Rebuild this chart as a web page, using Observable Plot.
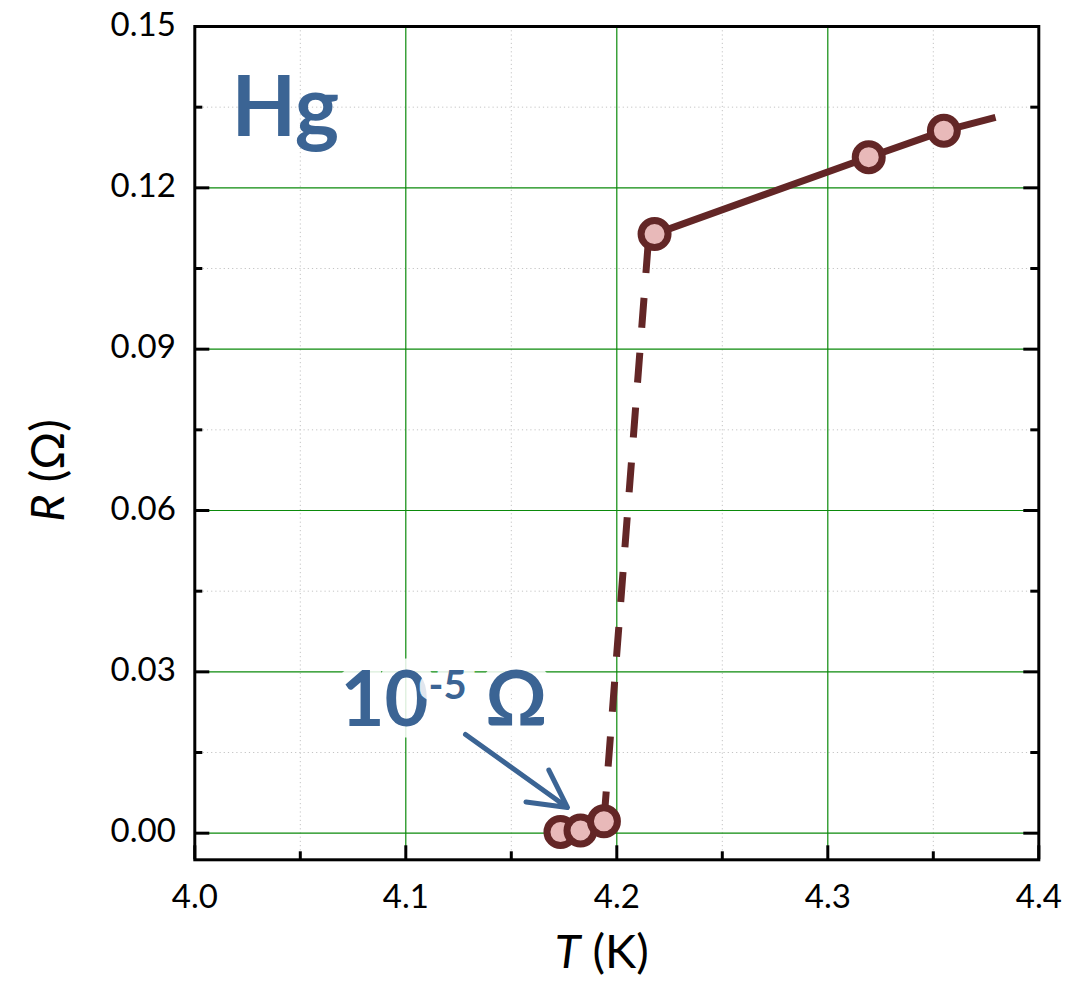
<!DOCTYPE html>
<html>
<head>
<meta charset="utf-8">
<script src="https://cdn.jsdelivr.net/npm/d3@7"></script>
<script src="https://cdn.jsdelivr.net/npm/@observablehq/plot@0.6"></script>
<style>
  html, body { margin: 0; padding: 0; background: #fff; }
  #chart svg { display: block; }
</style>
</head>
<body>
<div id="chart"></div>
<script>
// ---- data ----
const temperatureK  = [4.1733, 4.1828, 4.1939, 4.2179, 4.3194, 4.3550];
const resistanceOhm = [0.0002, 0.0005, 0.0022, 0.1114, 0.1257, 0.1306];
// solid guide through the normal-state points
const normalLineT = [4.2179, 4.3194, 4.3550, 4.3795];
const normalLineR = [0.1114, 0.1257, 0.1306, 0.1331];
// dashed guide across the transition
const transitionT = [4.1939, 4.2150];
const transitionR = [0.0022, 0.1103];
// ticks
const xMajorTicks = [4.0, 4.1, 4.2, 4.3, 4.4];
const xMinorTicks = [4.05, 4.15, 4.25, 4.35];
const yMajorTicks = [0.00, 0.03, 0.06, 0.09, 0.12, 0.15];
const yMinorTicks = [0.015, 0.045, 0.075, 0.105, 0.135];
// annotations (data coordinates)
const elementText = ["Hg"];
const elementT = [4.0174];
const elementR = [0.12955];
const residualText = ["10-5 Ω"];
const residualT = [4.0690];
const residualR = [0.01984];
const arrowFromT = [4.1283], arrowFromR = [0.01835];
const arrowToT = [4.1766], arrowToR = [0.00478];
const xTitle = ["T (K)"];
const yTitle = ["R (Ω)"];

// ---- layout ----
const W = 1081, H = 981;
const mTop = 26, mRight = 42.7, mBottom = 121.7, mLeft = 194.3;
const plotW = W - mLeft - mRight;
const plotH = H - mTop - mBottom;
const ink = "#632626", pink = "#e8b9b9", blue = "#3b6494", green = "#0b8a0b", minorGrid = "#c4c4c4";
const font = "Lato, 'Open Sans', 'DejaVu Sans', sans-serif";

const points = temperatureK.map((t, i) => ({T: t, R: resistanceOhm[i]}));
const normal = normalLineT.map((t, i) => ({T: t, R: normalLineR[i]}));
const transition = transitionT.map((t, i) => ({T: t, R: transitionR[i]}));
const elementLabels = elementText.map((s, i) => ({s, T: elementT[i], R: elementR[i]}));
const residualLabels = residualText.map((s, i) => ({s, T: residualT[i], R: residualR[i]}));
const arrows = arrowFromT.map((t, i) => ({x1: t, y1: arrowFromR[i], x2: arrowToT[i], y2: arrowToR[i]}));

const chart = Plot.plot({
  width: W,
  height: H,
  marginTop: mTop,
  marginRight: mRight,
  marginBottom: mBottom,
  marginLeft: mLeft,
  style: {fontFamily: font, background: "#fff", color: "#000"},
  x: {domain: [4.0, 4.4], label: null},
  y: {domain: [-0.00495, 0.15], label: null},
  marks: [
    // minor dotted grid
    Plot.ruleX(xMinorTicks, {x: d => d, stroke: minorGrid, strokeWidth: 1, strokeDasharray: "1.2,3"}),
    Plot.ruleY(yMinorTicks, {y: d => d, stroke: minorGrid, strokeWidth: 1, strokeDasharray: "1.2,3"}),
    // major green grid
    Plot.ruleX(xMajorTicks.slice(1, -1), {x: d => d, stroke: green, strokeWidth: 1.2}),
    Plot.ruleY(yMajorTicks.slice(0, -1), {y: d => d, stroke: green, strokeWidth: 1.2}),
    // inward ticks
    Plot.tickY(yMajorTicks, {y: d => d, insetRight: plotW - 15, stroke: "#000", strokeWidth: 3}),
    Plot.tickY(yMinorTicks, {y: d => d, insetRight: plotW - 8, stroke: "#000", strokeWidth: 3}),
    Plot.tickY(yMajorTicks, {y: d => d, insetLeft: plotW - 15, stroke: "#000", strokeWidth: 3}),
    Plot.tickY(yMinorTicks, {y: d => d, insetLeft: plotW - 8, stroke: "#000", strokeWidth: 3}),
    Plot.tickX(xMajorTicks, {x: d => d, insetTop: plotH - 14, stroke: "#000", strokeWidth: 3}),
    Plot.tickX(xMinorTicks, {x: d => d, insetTop: plotH - 8, stroke: "#000", strokeWidth: 3}),
    Plot.frame({stroke: "#000", strokeWidth: 3}),
    // tick labels
    Plot.axisY({ticks: yMajorTicks, tickSize: 0, tickPadding: 19, tickFormat: d3.format(".2f"), fontSize: 33, label: null, dy: -1.5}),
    Plot.axisX({ticks: xMajorTicks, tickSize: 0, tickPadding: 25, tickFormat: d3.format(".1f"), fontSize: 33, label: null}),
    // annotation with white halo
    Plot.text(residualLabels, {x: "T", y: "R", text: "s", textAnchor: "start", lineAnchor: "bottom",
      fontSize: 76, fontWeight: "bold", fill: blue, stroke: "white", strokeWidth: 22, strokeOpacity: 0.85, strokeLinejoin: "round"}),
    Plot.arrow(arrows, {x1: "x1", y1: "y1", x2: "x2", y2: "y2", stroke: blue, strokeWidth: 5,
      headLength: 28, headAngle: 56, strokeLinecap: "round"}),
    Plot.text(elementLabels, {x: "T", y: "R", text: "s", textAnchor: "start", lineAnchor: "bottom",
      fontSize: 84, fontWeight: "bold", fill: blue}),
    // data
    Plot.line(transition, {x: "T", y: "R", stroke: ink, strokeWidth: 7, strokeDasharray: "30,25", strokeLinecap: "butt"}),
    Plot.line(normal, {x: "T", y: "R", stroke: ink, strokeWidth: 7, strokeLinecap: "butt"}),
    Plot.dot(points, {x: "T", y: "R", r: 13.5, fill: pink, stroke: ink, strokeWidth: 7}),
    // axis titles
    Plot.text(xTitle, {frameAnchor: "bottom", text: d => d, textAnchor: "middle", lineAnchor: "bottom", dx: -15, dy: 107.7, fontSize: 47, fill: "#000"}),
    Plot.text(yTitle, {frameAnchor: "left", text: d => d, textAnchor: "middle", lineAnchor: "bottom", rotate: -90, dx: -131.3, dy: 27.4, fontSize: 47, fill: "#000"})
  ]
});

// rich text: italic variable letters and superscript exponent
const svgNS = "http://www.w3.org/2000/svg";
chart.querySelectorAll("text").forEach(t => {
  const s = t.textContent;
  if (s === "T (K)" || s === "R (Ω)") {
    const letter = s[0], rest = s.slice(1);
    t.textContent = "";
    const a = document.createElementNS(svgNS, "tspan");
    a.setAttribute("font-style", "italic");
    a.textContent = letter;
    t.appendChild(a);
    t.appendChild(document.createTextNode(rest));
  } else if (s === "10-5 Ω") {
    t.textContent = "10";
    const sup = document.createElementNS(svgNS, "tspan");
    sup.setAttribute("font-size", "40");
    sup.setAttribute("dy", "-27");
    sup.textContent = "-5";
    t.appendChild(sup);
    const om = document.createElementNS(svgNS, "tspan");
    om.setAttribute("font-size", "76");
    om.setAttribute("dy", "27");
    om.textContent = " Ω";
    t.appendChild(om);
  }
});

document.getElementById("chart").appendChild(chart);
</script>
</body>
</html>
